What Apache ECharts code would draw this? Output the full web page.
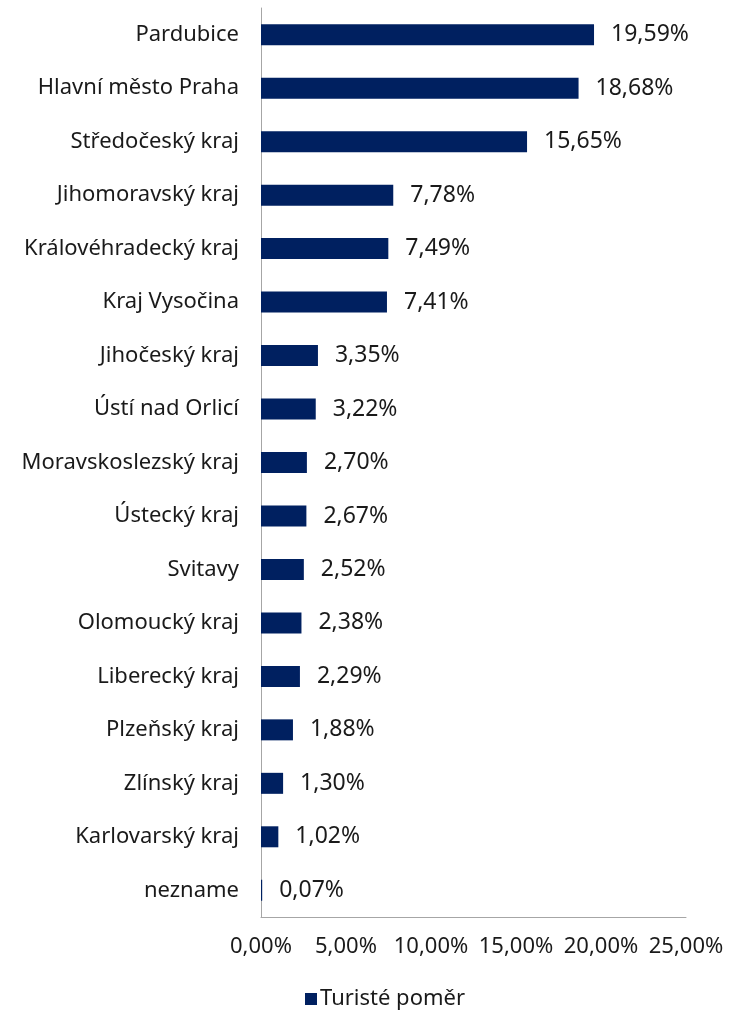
<!DOCTYPE html>
<html>
<head>
<meta charset="utf-8">
<script src="https://cdn.jsdelivr.net/npm/echarts@6/dist/echarts.min.js"></script>
<style>
  html, body { margin: 0; padding: 0; background: #fff; }
  #chart { width: 731px; height: 1017px; }
</style>
</head>
<body>
<div id="chart"></div>
<script>
// kategorie a hodnoty (v %)
const regions = [
  'Pardubice', 'Hlavní město Praha', 'Středočeský kraj', 'Jihomoravský kraj',
  'Královéhradecký kraj', 'Kraj Vysočina', 'Jihočeský kraj', 'Ústí nad Orlicí',
  'Moravskoslezský kraj', 'Ústecký kraj', 'Svitavy', 'Olomoucký kraj',
  'Liberecký kraj', 'Plzeňský kraj', 'Zlínský kraj', 'Karlovarský kraj', 'nezname',
];
const shares = [
  19.59, 18.68, 15.65, 7.78, 7.49, 7.41, 3.35, 3.22,
  2.70, 2.67, 2.52, 2.38, 2.29, 1.88, 1.30, 1.02, 0.07,
];
const seriesName = 'Turisté poměr';

const FONT = '"Noto Sans", sans-serif';
const TXT = '#1a1a1a';
const pct = (v) => v.toFixed(2).replace('.', ',') + '%';

const chart = echarts.init(document.getElementById('chart'), null, { renderer: 'canvas' });
chart.setOption({
  backgroundColor: '#fff',
  animation: false,
  textStyle: { fontFamily: FONT },
  grid: { left: 261, right: 45, top: 8, bottom: 100, containLabel: false },
  legend: {
    data: [seriesName],
    left: 300,
    bottom: 2,
    icon: 'rect',
    itemWidth: 12,
    itemHeight: 12,
    itemGap: 4,
    textStyle: { fontFamily: FONT, fontSize: 22, color: TXT, padding: [0, 0, 0, -2] },
  },
  xAxis: {
    type: 'value',
    min: 0,
    max: 25,
    interval: 5,
    axisLine: { show: true, lineStyle: { color: '#a6a6a6', width: 1 } },
    axisTick: { show: false },
    splitLine: { show: false },
    axisLabel: {
      formatter: (v) => pct(v),
      fontFamily: FONT,
      fontSize: 22,
      color: TXT,
      margin: 19,
    },
  },
  yAxis: {
    type: 'category',
    data: regions,
    inverse: true,
    axisLine: { show: true, lineStyle: { color: '#a6a6a6', width: 1 } },
    axisTick: { show: false },
    axisLabel: { fontFamily: FONT, fontSize: 22, color: TXT, margin: 22 },
  },
  series: [{
    name: seriesName,
    type: 'bar',
    data: shares,
    barWidth: 21,
    itemStyle: { color: '#002060' },
    label: {
      show: true,
      position: 'right',
      distance: 17,
      formatter: (p) => pct(p.value),
      fontFamily: FONT,
      fontSize: 23,
      color: TXT,
    },
  }],
});
</script>
</body>
</html>
